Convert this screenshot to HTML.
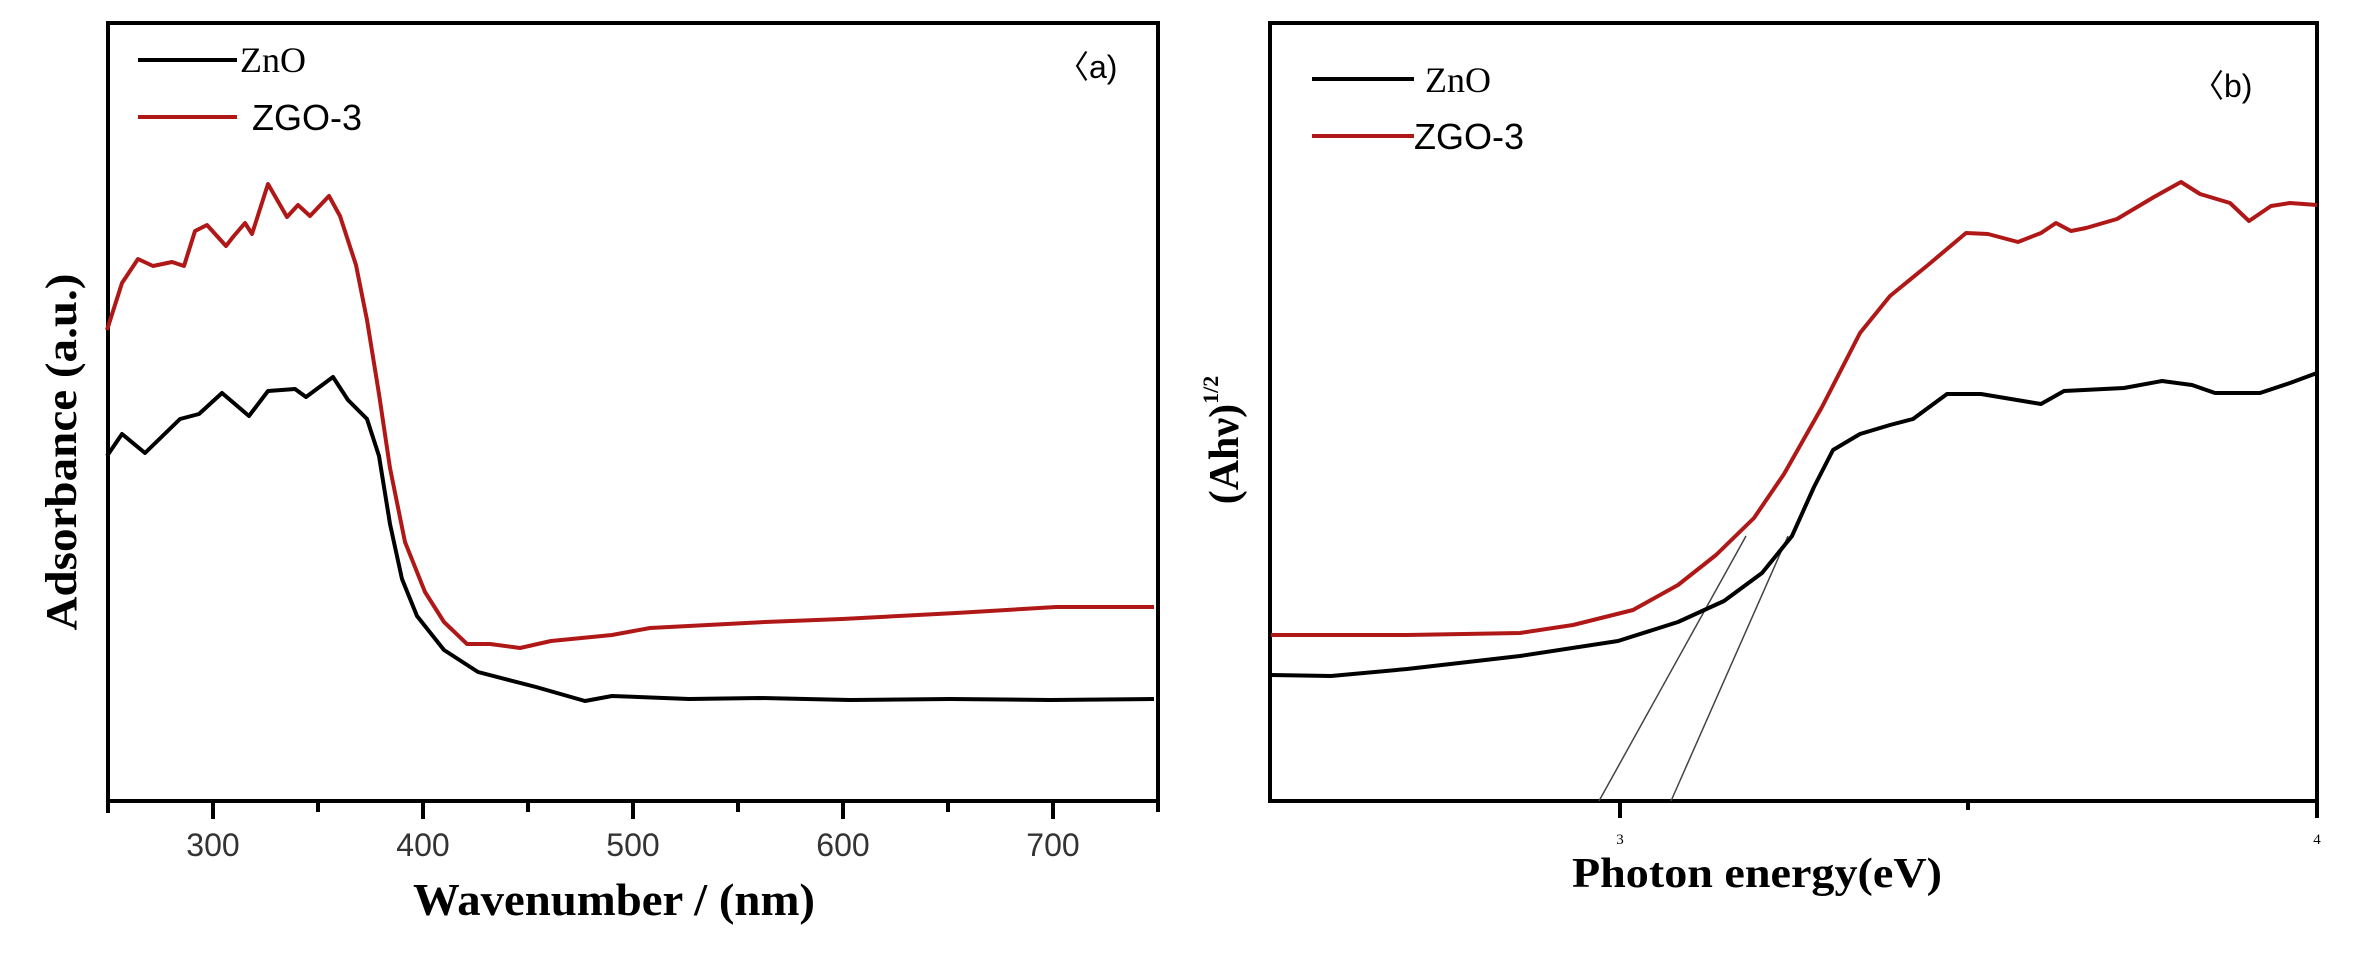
<!DOCTYPE html>
<html><head><meta charset="utf-8"><style>
html,body{margin:0;padding:0;background:#fff;}
svg{display:block;}
text{font-family:"Liberation Serif",serif;}
</style></head><body>
<svg width="2364" height="961" viewBox="0 0 2364 961" xmlns="http://www.w3.org/2000/svg">
<rect width="2364" height="961" fill="#fff"/>
<!-- Panel a -->
<rect x="108" y="23" width="1050" height="778" fill="none" stroke="#000" stroke-width="4"/>
<g stroke="#000" stroke-width="4">
<line x1="108" y1="801" x2="108" y2="813"/>
<line x1="213" y1="801" x2="213" y2="819"/>
<line x1="318" y1="801" x2="318" y2="812"/>
<line x1="423" y1="801" x2="423" y2="819"/>
<line x1="528" y1="801" x2="528" y2="812"/>
<line x1="633" y1="801" x2="633" y2="819"/>
<line x1="738" y1="801" x2="738" y2="812"/>
<line x1="843" y1="801" x2="843" y2="819"/>
<line x1="948" y1="801" x2="948" y2="812"/>
<line x1="1053" y1="801" x2="1053" y2="819"/>
<line x1="1158" y1="801" x2="1158" y2="812"/>
</g>
<g font-size="32" fill="#333" text-anchor="middle" font-family="Liberation Sans, sans-serif">
<text x="213" y="856" style="font-family:'Liberation Sans',sans-serif">300</text>
<text x="423" y="856" style="font-family:'Liberation Sans',sans-serif">400</text>
<text x="633" y="856" style="font-family:'Liberation Sans',sans-serif">500</text>
<text x="843" y="856" style="font-family:'Liberation Sans',sans-serif">600</text>
<text x="1053" y="856" style="font-family:'Liberation Sans',sans-serif">700</text>
</g>
<text x="413" y="915" font-size="46" font-weight="bold" textLength="402" lengthAdjust="spacingAndGlyphs">Wavenumber / (nm)</text>
<text transform="translate(76,452) rotate(-90)" font-size="44" font-weight="bold" text-anchor="middle" textLength="357" lengthAdjust="spacingAndGlyphs">Adsorbance (a.u.)</text>
<line x1="138" y1="60" x2="237" y2="60" stroke="#000" stroke-width="4"/>
<text x="240" y="72" font-size="36">ZnO</text>
<line x1="138" y1="117" x2="237" y2="117" stroke="#b01818" stroke-width="4"/>
<text x="252" y="130" font-size="36" style="font-family:'Liberation Sans',sans-serif">ZGO-3</text>
<text x="1057" y="78" font-size="32" style="font-family:'Liberation Sans',sans-serif">〈a)</text>
<polyline fill="none" stroke="#000" stroke-width="4" stroke-linejoin="round" points="107,456 122,434 145,453 180,419 199,414 222,393 249,416 268,391 295,389 306,397 333,377 348,400 367,419 379,456 390,524 402,579 417,616 444,650 478,672 536,687 585,701 612,696 689,699 760,698 850,700 950,699 1050,700 1154,699"/>
<polyline fill="none" stroke="#b01818" stroke-width="4" stroke-linejoin="round" points="107,330 122,283 138,259 153,266 172,262 184,266 195,231 207,225 226,246 233,237 245,223 252,234 268,184 287,217 298,205 310,216 329,196 340,216 356,265 367,320 379,394 390,468 405,542 425,592 444,622 467,644 490,644 520,648 551,641 612,635 650,628 765,622 842,619 956,613 1056,607 1154,607"/>
<!-- Panel b -->
<rect x="1270" y="23" width="1047" height="778" fill="none" stroke="#000" stroke-width="4"/>
<g stroke="#000" stroke-width="4">
<line x1="1620" y1="801" x2="1620" y2="818"/>
<line x1="1968" y1="801" x2="1968" y2="810"/>
<line x1="2317" y1="801" x2="2317" y2="818"/>
</g>
<text x="1620" y="844" font-size="15" text-anchor="middle">3</text>
<text x="2317" y="844" font-size="15" text-anchor="middle">4</text>
<text x="1572" y="887" font-size="42" font-weight="bold" textLength="370" lengthAdjust="spacingAndGlyphs">Photon energy(eV)</text>
<text transform="translate(1238,440) rotate(-90)" font-size="42" font-weight="bold" text-anchor="middle">(Ahν)<tspan font-size="22" dy="-20">1/2</tspan></text>
<line x1="1312" y1="79" x2="1414" y2="79" stroke="#000" stroke-width="4"/>
<text x="1425" y="92" font-size="36">ZnO</text>
<line x1="1312" y1="136" x2="1414" y2="136" stroke="#b01818" stroke-width="4"/>
<text x="1414" y="149" font-size="36" style="font-family:'Liberation Sans',sans-serif">ZGO-3</text>
<text x="2192" y="97" font-size="32" style="font-family:'Liberation Sans',sans-serif">〈b)</text>
<line x1="1599" y1="801" x2="1746" y2="536" stroke="#444" stroke-width="1.5"/>
<line x1="1671" y1="801" x2="1788" y2="536" stroke="#444" stroke-width="1.5"/>
<polyline fill="none" stroke="#b01818" stroke-width="4" stroke-linejoin="round" points="1271,635 1407,635 1520,633 1573,625 1633,610 1678,585 1716,555 1754,518 1784,474 1822,407 1860,333 1890,296 1928,265 1966,233 1988,234 2018,242 2041,233 2056,223 2071,231 2086,228 2117,219 2154,197 2181,182 2200,194 2230,203 2249,221 2271,206 2290,203 2317,205"/>
<polyline fill="none" stroke="#000" stroke-width="4" stroke-linejoin="round" points="1271,675 1331,676 1407,669 1520,656 1618,641 1678,622 1724,601 1762,573 1792,536 1814,487 1833,450 1860,434 1890,425 1913,419 1947,394 1981,394 2011,399 2041,404 2064,391 2124,388 2162,381 2192,385 2215,393 2260,393 2290,383 2317,373"/>
</svg>
</body></html>
